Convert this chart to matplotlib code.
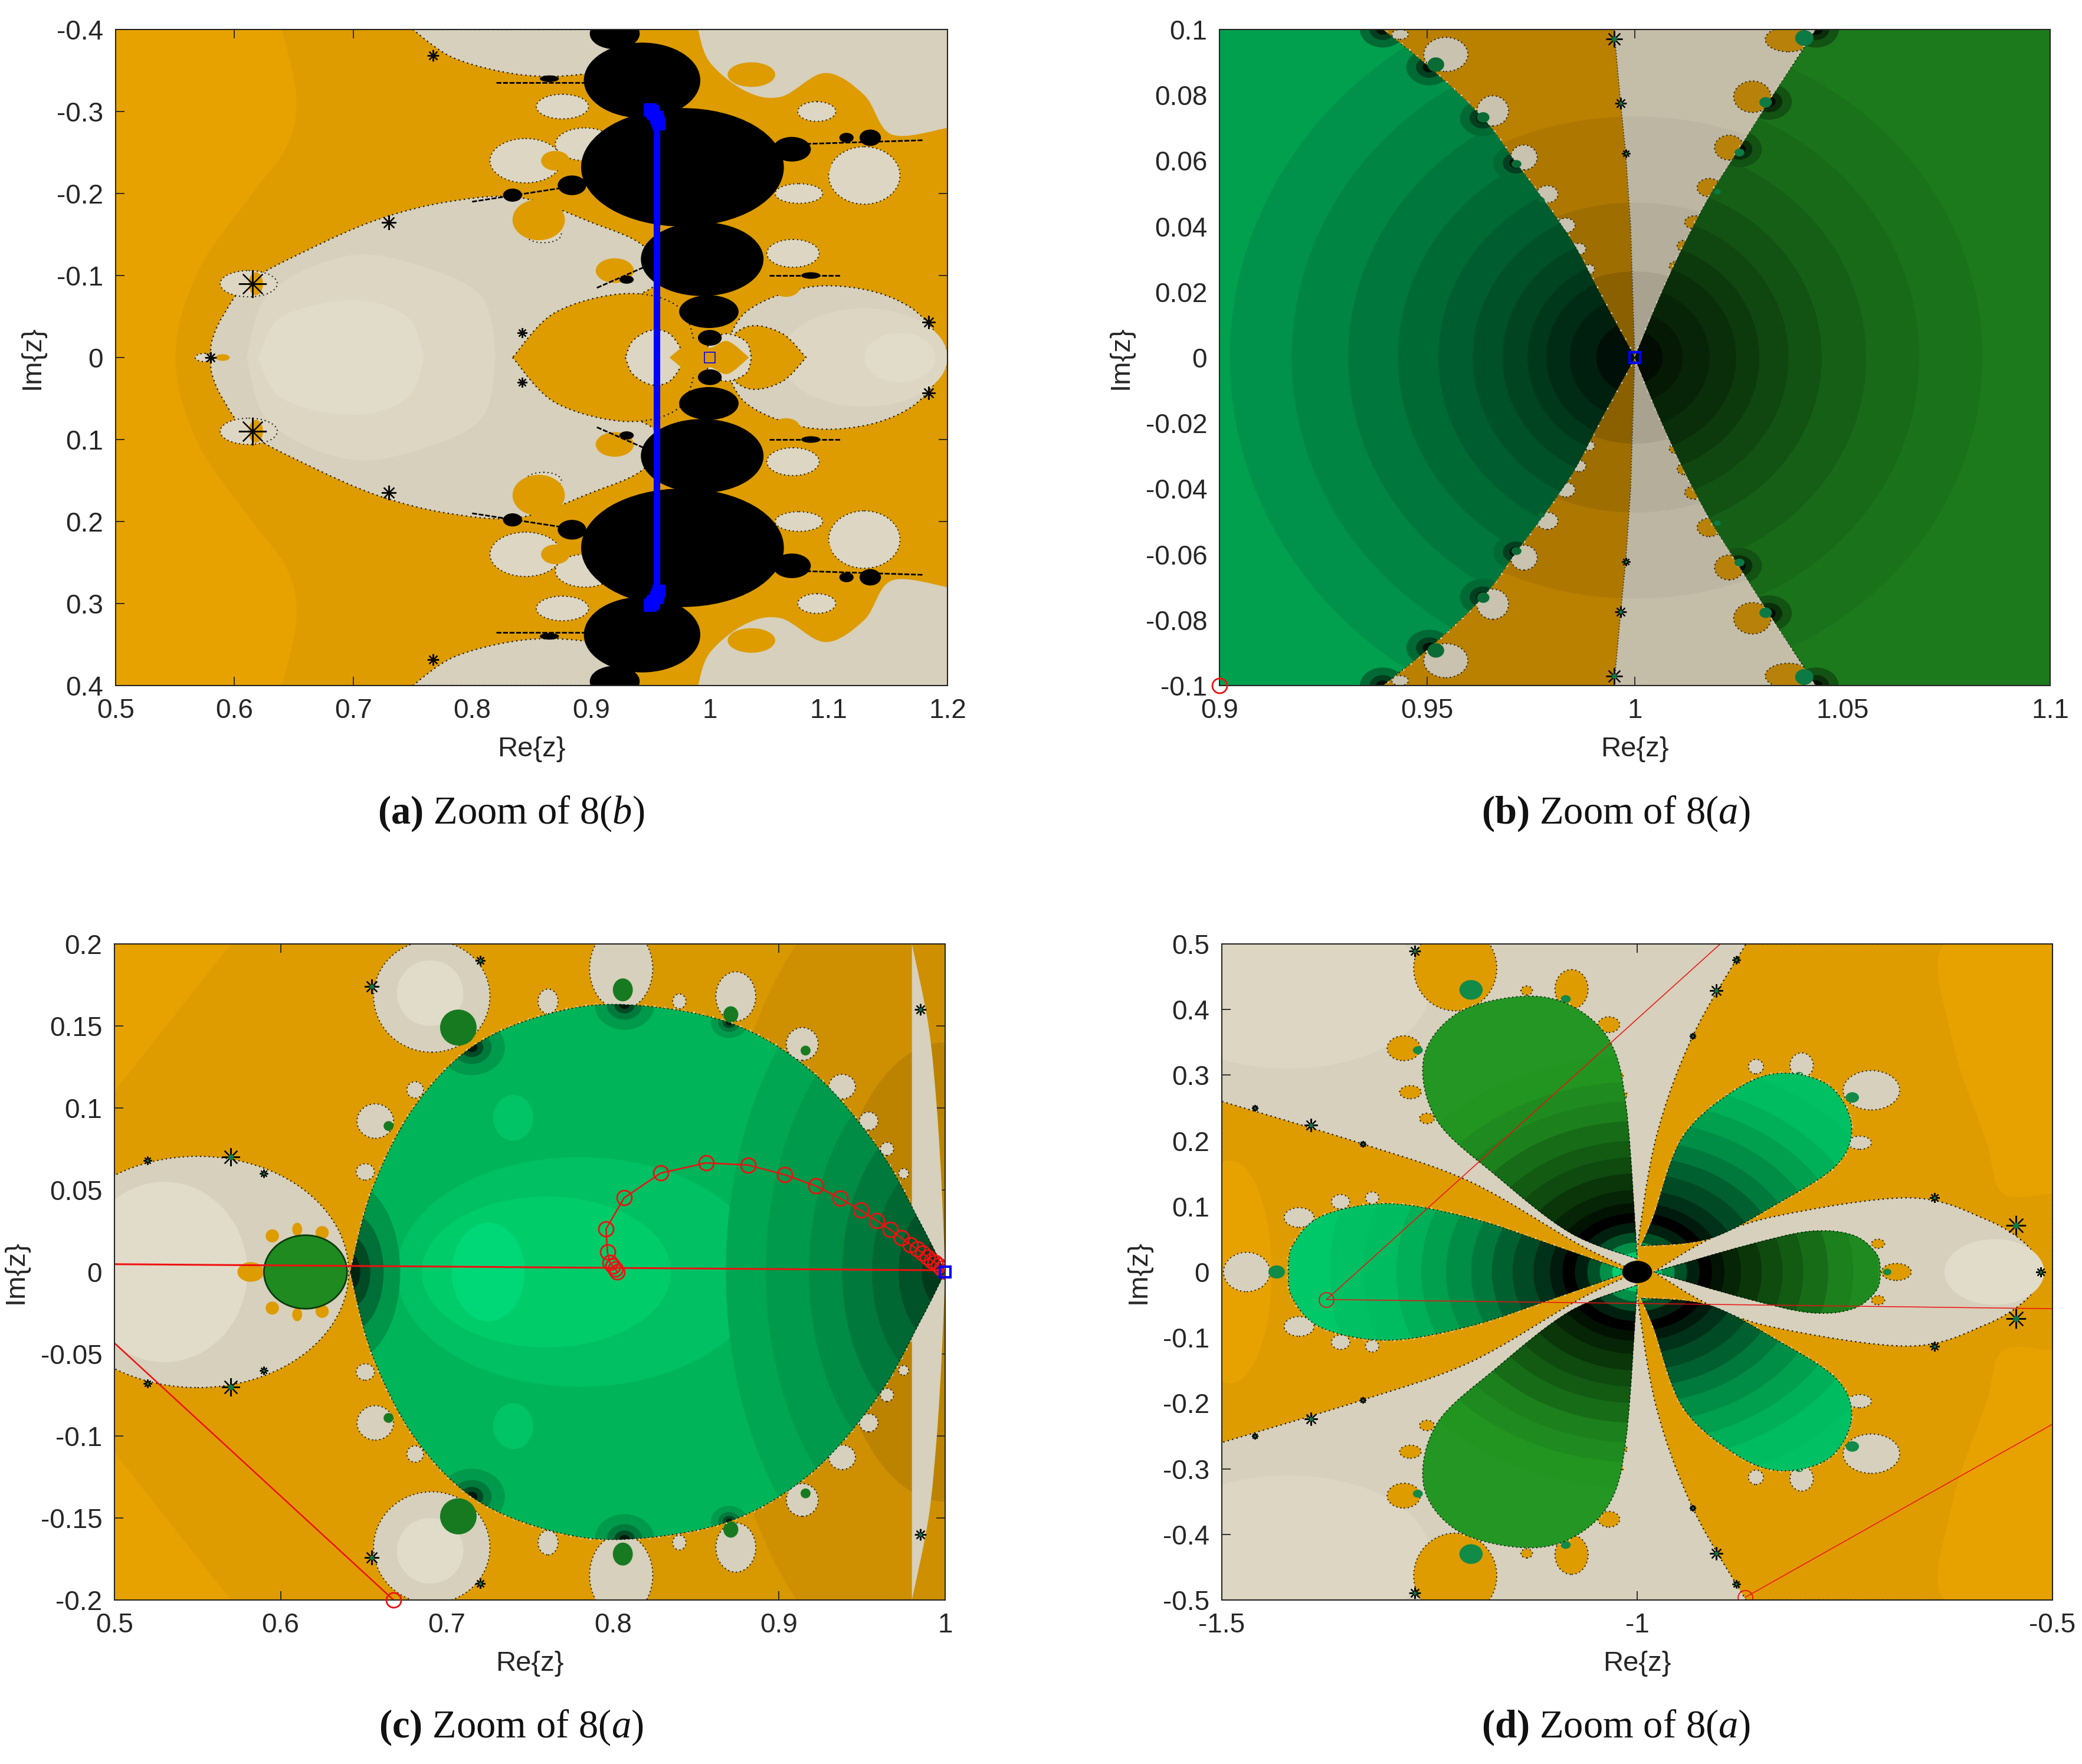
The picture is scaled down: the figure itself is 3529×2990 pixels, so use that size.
import numpy as np
import matplotlib
matplotlib.use("Agg")
import matplotlib.pyplot as plt
from matplotlib.path import Path
from matplotlib.patches import PathPatch, Ellipse

plt.rcParams['font.family'] = ['Liberation Sans', 'DejaVu Sans']
plt.rcParams['mathtext.fontset'] = 'custom'
plt.rcParams['mathtext.rm'] = 'Liberation Serif'
plt.rcParams['mathtext.it'] = 'Liberation Serif:italic'
plt.rcParams['mathtext.bf'] = 'Liberation Serif:bold'

# ---------- colours ----------
OR_BRIGHT = '#E8A200'; OR = '#DE9C00'
WH = '#D6D0BC'; WH2 = '#DCD6C3'; WH3 = '#E1DCCA'
BLUE = '#0000FF'; RED = '#F01010'

# ---------- panel (a) ----------
a_xticks = [0.5, 0.6, 0.7, 0.8, 0.9, 1, 1.1, 1.2]
a_yticks = [-0.4, -0.3, -0.2, -0.1, 0, 0.1, 0.2, 0.3, 0.4]
a_bright_edge = [(0.55, 0), (0.555, .05), (0.575, .12), (0.615, .20), (0.645, .26), (0.652, .32), (0.64, .4), (0.64, .4), (0.5, .4), (0.5, .4), (0.5, 0)]
a_big_lobe = [(0.58, 0), (0.581, .02), (0.59, .05), (0.612, .092), (0.66, .13), (0.72, .168), (0.78, .19), (0.84, .195), (0.90, .165), (0.945, .135), (0.955, .09), (0.90, .05), (0.88, 0)]
a_mid_lobe = [(0.61, 0), (0.63, .08), (0.70, .125), (0.77, .105), (0.81, .07), (0.82, 0)]
a_in_lobe = [(0.62, 0), (0.64, .05), (0.70, .07), (0.745, .05), (0.76, 0)]
a_right_lens = [(1.01, 0), (1.03, .055), (1.08, .085), (1.13, .083), (1.17, .06), (1.195, .02), (1.2, 0)]
a_corner = [(1.2, .4), (1.2, .4), (1.2, .28), (1.2, .28), (1.153, .272), (1.13, .32), (1.097, .347), (1.06, .318), (1.03, .325), (1.0, .36), (0.99, .4), (0.99, .4)]
a_top_lobe = [(0.75, .4), (0.785, .365), (0.84, .345), (0.89, .345), (0.93, .36), (0.93, .4), (0.93, .4)]
a_lens_or_l = [(0.834, 0), (0.87, .055), (0.93, .078), (0.975, .06), (0.99, 0)]
a_lens_wh_l = [(0.929, 0), (0.935, .02), (0.95, .033), (0.965, .03), (0.975, .012), (0.975, 0)]
a_lens_or_r = [(1.0, 0), (1.03, .037), (1.06, .03), (1.081, 0)]
a_lens_wh_r = [(0.99, 0), (1.01, .028), (1.03, .02), (1.035, 0)]
a_lens_or_c = [(0.966, 0), (0.985, .02), (1.0, .012), (1.015, .02), (1.033, 0)]
a_white_blobs = [(.845, .24, .03, .027), (.876, .306, .022, .015), (1.13, .222, .03, .035), (1.07, .127, .022, .017),
                 (1.075, .2, .02, .012), (1.09, .30, .016, .012), (.612, .09, .024, .016), (.575, 0, .008, .005), (.86, .15, .015, .01), (.895, .26, .025, .02)]
a_orange_blobs = [(.856, .168, .022, .025), (.92, .106, .016, .015), (1.064, .086, .012, .012), (.618, .09, .006, .014),
                  (1.09, .235, .012, .016), (1.035, .345, .02, .015), (.87, .24, .012, .012), (.94, .16, .012, .01), (.59, 0, .006, .004)]
a_black_discs = [(.977, .232, .0853, .0722), (.943, .338, .049, .046), (.92, .395, .021, .019), (.9936, .12, .0516, .045),
                 (.9992, .056, .025, .02), (1.0, .024, .01, .0096), (1.069, .254, .016, .015), (1.135, .268, .009, .01),
                 (1.115, .268, .006, .006), (.884, .21, .012, .012), (.834, .198, .008, .008), (.865, .34, .008, .004),
                 (1.085, .1, .008, .004), (.93, .095, .006, .005)]
a_chain_x = [(.80, .89), (1.07, 1.18), (.82, .90), (1.05, 1.11), (.905, .96)]
a_chain_y = [(.19, .21), (.26, .265), (.335, .335), (.10, .10), (.085, .12)]
a_stars = [(.615, .09, 34), (.73, .165, 18), (1.184, .043, 16), (.842, .03, 12), (.767, .368, 14), (.58, 0, 14)]
a_line_x = [0.955, 0.955]
a_line_y = [-0.285, 0.285]
a_end_x = [0.950, 0.952, 0.953, 0.955, 0.956, 0.957]
a_end_y = [0.302, 0.300, 0.297, 0.293, 0.289, 0.285]

# ---------- panel (b) ----------
b_xticks = [0.9, 0.95, 1, 1.05, 1.1]
b_yticks = [-0.1, -0.08, -0.06, -0.04, -0.02, 0, 0.02, 0.04, 0.06, 0.08, 0.1]
b_left_wedge = [(1.0, 0), (.9922, .018), (.9858, .0335), (.9794, .0456), (.9714, .0593), (.9634, .073), (.9505, .0885), (.9393, .1), (.9393, .1), (.9, .1), (.9, .1), (.9, 0)]
b_right_wedge = [(1.0, 0), (1.0059, .018), (1.0115, .0334), (1.0179, .0489), (1.0251, .0635), (1.0323, .078), (1.0436, .1), (1.0436, .1), (1.1, .1), (1.1, .1), (1.1, 0)]
b_center_line = [(.995, .1), (.9966, .0775), (.9978, .0623), (.999, .04), (1.0, 0)]
b_orange_region = [(.93, 0), (.93, .1), (.995, .1), (.9966, .0775), (.9978, .0623), (.999, .04), (1.0, 0)]
b_white_region = [(1.06, 0), (1.06, .1), (.995, .1), (.9966, .0775), (.9978, .0623), (.999, .04), (1.0, 0)]
b_left_radii = [.0975, .0826, .069, .057, .0473, .039, .0318, .0258, .0213, .0157, .0093]
b_left_cols = ['#00914A', '#008543', '#00773C', '#006A35', '#005D2F', '#005028', '#004421', '#00381B', '#002C15', '#00200F', '#001008']
b_right_radii = [.0837, .0685, .0557, .045, .037, .030, .0244, .018, .0115, .0067]
b_right_cols = ['#1A721B', '#186A19', '#156016', '#125213', '#104610', '#0D3A0D', '#0A2E0A', '#082408', '#051905', '#020C02']
b_eggs_l = [(.9545, .0924, .0053, .0052), (.9658, .0752, .0038, .0046), (.9733, .061, .0032, .0038), (.9789, .0498, .0026, .0026),
            (.9834, .0403, .0022, .0022), (.9866, .0331, .0016, .0017), (.989, .0269, .0013, .0014), (.9435, .0985, .002, .0015)]
b_dots_l = [(.9521, .0893, .002, .0022), (.9635, .0732, .0015, .0016), (.9715, .059, .0012, .0012), (.9775, .048, .0008, .0008)]
b_eggs_r = [(1.037, .097, .0056, .0038), (1.0283, .0795, .0045, .0048), (1.0227, .064, .0035, .0038), (1.0179, .0518, .0029, .0028),
            (1.0144, .0412, .0024, .002), (1.0118, .034, .0016, .0017), (1.0096, .0278, .0013, .0014)]
b_dots_r = [(1.0408, .0974, .0022, .0024), (1.0315, .0778, .0015, .0016), (1.0252, .0625, .0012, .0012), (1.0199, .0505, .0008, .0008)]
b_contacts_l = [(.9505, .0885), (.9634, .073), (.9714, .0593), (.9393, .1)]
b_contacts_r = [(1.0436, .1), (1.0323, .078), (1.0251, .0635)]
b_stars = [(.995, .0971, 20), (.9966, .0775, 14), (.9978, .0623, 10)]

# ---------- panel (c) ----------
c_xticks = [0.5, 0.6, 0.7, 0.8, 0.9, 1]
c_yticks = [-0.2, -0.15, -0.1, -0.05, 0, 0.05, 0.1, 0.15, 0.2]
c_disc = [(.642, 0), (.655, .05), (.68, .1), (.715, .137), (.76, .157), (.807, .163), (.87, .152), (.92, .122), (.96, .075), (.985, .03), (1.0, 0)]
c_strip = [(.98, .2), (.99, .15), (.995, .1), (.998, .05), (1.0, 0), (1.0, 0), (1.0, .2), (1.0, .2)]
c_radii = [.132, .108, .082, .062, .044, .028, .014]
c_cols = ['#00A652', '#009A4C', '#008C45', '#007A3C', '#006833', '#005228', '#003A1C']
c_eggs = [(.691, .168, .035, .034), (.805, .185, .019, .025), (.874, .168, .012, .015), (.761, .165, .006, .0075), (.84, .165, .004, .0045),
          (.914, .139, .0096, .01), (.938, .113, .008, .0075), (.954, .092, .0056, .0055), (.965, .075, .004, .004), (.657, .092, .011, .0105),
          (.681, .111, .005, .005), (.651, .061, .0055, .005), (.975, .06, .003, .003)]
c_dots = [(.707, .149, .011, .011), (.806, .172, .006, .007), (.871, .157, .0045, .005), (.665, .089, .003, .003), (.916, .135, .003, .003)]
c_orange_bits = [(.595, .022, .004, .004), (.625, .024, .004, .004), (.61, .026, .003, .004), (.582, 0, .008, .006), (.708, .133, .012, .006), (.806, .158, .005, .006)]
c_stars = [(.57, .07, 22), (.655, .174, 18), (.985, .16, 14), (.72, .19, 12), (.52, .068, 10), (.59, .06, 10)]
c_line1_x = [.668, .40]; c_line1_y = [-.2, .0499]
c_line2_x = [.40, 1.0]; c_line2_y = [.0055, .001]
c_traj_x = [.8024, .8016, .7999, .7983, .7967, .7959, .8068, .8288, .8561, .8814, .9034, .9223, .9367, .9491, .9587, .9668, .9736, .9792, .9832, .9864, .9892, .992, .994, .996, .998, 1.0]
c_traj_y = [.0001, .0019, .0036, .0056, .0122, .0263, .0452, .0603, .0665, .0652, .0593, .0524, .0449, .0376, .0314, .0259, .0208, .0166, .0139, .0115, .0091, .007, .0056, .0039, .0022, .0005]

# ---------- panel (d) ----------
d_xticks = [-1.5, -1, -0.5]
d_xlabels = ['-1.5', '-1', '-0.5']
d_yticks = [-0.5, -0.4, -0.3, -0.2, -0.1, 0, 0.1, 0.2, 0.3, 0.4, 0.5]
d_or_left = [(-1.0, 0), (-1.07, .042), (-1.2, .137), (-1.33, .195), (-1.5, .26), (-1.5, .26), (-1.5, 0)]
d_or_right = [(-1.0, 0), (-1.0, .034), (-.977, .206), (-.933, .36), (-.869, .5), (-.869, .5), (-.5, .5), (-.5, .5), (-.5, 0)]
d_bright_right = [(-.5, .5), (-.5, .5), (-.63, .5), (-.62, .35), (-.58, .2), (-.56, .12), (-.5, .12), (-.5, .12), (-.5, .5)]
d_lens = [(-.98, 0), (-.913, .05), (-.833, .085), (-.672, .113), (-.58, .08), (-.53, .04), (-.514, 0)]
d_petal_left = [(-1.01, 0), (-1.10, .04), (-1.2, .082), (-1.3, .104), (-1.38, .085), (-1.415, .04), (-1.42, 0)]
d_petal_right = [(-.98, 0), (-.87, .04), (-.792, .062), (-.74, .056), (-.712, .028), (-.707, 0)]
d_petal_tl = [(-1.0, .02), (-1.013, .25), (-1.033, .352), (-1.081, .407), (-1.141, .42), (-1.217, .394), (-1.257, .326), (-1.241, .231), (-1.169, .146), (-1.081, .06), (-1.0, .02)]
d_petal_tr = [(-.995, .04), (-.98, .085), (-.945, .206), (-.88, .279), (-.825, .303), (-.768, .283), (-.742, .223), (-.76, .163), (-.833, .103), (-.913, .051), (-.995, .04)]
d_radii = [.37, .33, .29, .26, .23, .20, .175, .15, .125, .105, .09, .075, .06, .045, .03]
d_bright = ['#00C064', '#00BC60', '#00B058', '#00A04E', '#008E47', '#007A3C', '#006030', '#004A25', '#00321A', '#001A0D', '#000000', '#00200F', '#005028', '#009048', '#00D070']
d_dark = ['#249624', '#229520', '#1F8A1F', '#1C801C', '#176C17', '#135A13', '#0F4A0F', '#0A360A', '#062406', '#031303', '#000000', '#00200F', '#005028', '#009048', '#00C868']
d_eggs_or = [(-1.219, .463, .05, .065), (-1.079, .431, .02, .03), (-1.034, .377, .013, .012), (-1.281, .341, .02, .019), (-1.273, .274, .013, .01),
             (-1.253, .234, .009, .008), (-1.133, .429, .007, .007), (-1.025, .30, .008, .008), (-1.018, .27, .006, .006), (-.688, 0, .018, .013), (-.71, .043, .008, .007)]
d_eggs_wh = [(-1.47, 0, .028, .03), (-1.407, .083, .018, .015), (-1.357, .107, .011, .011), (-1.319, .113, .008, .009),
             (-.718, .277, .034, .03), (-.802, .315, .014, .019), (-.857, .313, .009, .011), (-.732, .197, .014, .01)]
d_dots = [(-1.434, 0, .01, .01), (-1.2, .43, .014, .015), (-1.086, .416, .006, .006), (-1.264, .338, .006, .006), (-.741, .266, .008, .008),
          (-.699, 0, .005, .005), (-.805, .30, .005, .005)]
d_stars = [(-.544, .071, 24), (-.642, .113, 12), (-.514, 0, 12), (-1.393, .224, 16), (-1.268, .489, 14), (-.905, .429, 16), (-.881, .476, 10), (-.933, .36, 8), (-1.33, .195, 8), (-1.46, .25, 8)]
d_start_x = [-1.374, -.87]; d_start_y = [-.042, -.496]
d_line1_x = [-1.374, -.5]; d_line1_y = [-.042, -.056]
d_line2_x = [-1.374, -.9]; d_line2_y = [-.042, .5]
d_line3_x = [-.87, -.5]; d_line3_y = [-.496, -.232]

captions = [r"$\mathbf{(a)}$ Zoom of 8$(\mathit{b})$", r"$\mathbf{(b)}$ Zoom of 8$(\mathit{a})$",
            r"$\mathbf{(c)}$ Zoom of 8$(\mathit{a})$", r"$\mathbf{(d)}$ Zoom of 8$(\mathit{a})$"]

W, H = 3530, 2990
fig = plt.figure(figsize=(W / 100, H / 100), dpi=100, facecolor='white')
FUZZ = (0, (1, 2.5))


def make_ax(left, right, top, bottom):
    ax = fig.add_axes([left / W, 1 - bottom / H, (right - left) / W, (bottom - top) / H])
    ax.tick_params(direction='in', length=11, width=1.3, top=True, right=True, labelsize=33, colors='#262626', pad=15)
    for s in ax.spines.values():
        s.set_linewidth(1.5); s.set_color('#262626'); s.set_zorder(50)
    ax.set_xlabel('Re{z}', fontsize=34, color='#262626', labelpad=15)
    ax.set_ylabel('Im{z}', fontsize=34, color='#262626', labelpad=14)
    return ax


def spline_segments(p):
    p = np.asarray(p, float)
    n = len(p)
    v, c = [], []
    for i in range(n - 1):
        p0, p1, p2, p3 = p[max(i - 1, 0)], p[i], p[i + 1], p[min(i + 2, n - 1)]
        v += [p1 + (p2 - p0) / 6, p2 - (p3 - p1) / 6, p2]
        c += [Path.CURVE4] * 3
    return v, c


def runs(p):
    # a repeated point marks a sharp corner between two smooth runs
    out, cur = [], [p[0]]
    for a in p[1:]:
        if np.allclose(a, cur[-1]):
            if len(cur) > 1:
                out.append(cur)
            cur = [a]
        else:
            cur.append(a)
    if len(cur) > 1:
        out.append(cur)
    return out


def shape_path(pts, mirror=True):
    p = np.asarray(pts, float)
    verts = [p[0]]
    codes = [Path.MOVETO]
    for r in runs(p):
        v, c = spline_segments(r)
        verts += v; codes += c
    if mirror:
        q = p[::-1] * [1, -1]
        for r in runs(q):
            v, c = spline_segments(r)
            verts += v; codes += c
    verts.append(p[0]); codes.append(Path.CLOSEPOLY)
    return Path(np.array(verts), codes)


def blob(ax, pts, color, z=2, mirror=True, fuzz=False):
    patch = PathPatch(shape_path(pts, mirror), fc=color, ec='none', zorder=z)
    ax.add_patch(patch)
    if fuzz:
        ax.add_patch(PathPatch(shape_path(pts, mirror), fc='none', ec='#111111', lw=1.6, ls=FUZZ, zorder=z + .1))
    return patch


def sharp_poly(ax, pts, color, z=2, mirror=True):
    p = np.asarray(pts, float)
    if mirror:
        p = np.vstack([p, p[::-1] * [1, -1]])
    patch = plt.Polygon(p, closed=True, fc=color, ec='none', zorder=z)
    ax.add_patch(patch)
    return patch


def ellipses(ax, items, color, z=3, mirror=True, clip=None, fuzz=False):
    for (x, y, rx, ry) in items:
        for s in ([1, -1] if mirror and y != 0 else [1]):
            if fuzz:
                e = Ellipse((x, s * y), 2 * rx, 2 * ry, fc=color, ec='#111111', lw=1.4, ls=FUZZ, zorder=z)
            else:
                e = Ellipse((x, s * y), 2 * rx, 2 * ry, fc=color, ec='none', zorder=z)
            ax.add_patch(e)
            if clip is not None:
                e.set_clip_path(clip)


def stars(ax, items, z=8, mirror=True, dot=None):
    for (x, y, s) in items:
        for sg in ([1, -1] if mirror and y != 0 else [1]):
            ax.plot([x], [sg * y], marker=(8, 2, 0), ms=s, mew=1.6, color='#0A0A0A', ls='none', zorder=z)
            if dot:
                ax.plot([x], [sg * y], marker='o', ms=s * .3, color=dot, mew=0, ls='none', zorder=z + .1)


def bands(ax, center, radii, cols, clip, yscale=1.0, z=3):
    for r, col in zip(radii, cols):
        e = Ellipse(center, 2 * r, 2 * r * yscale, fc=col, ec='none', zorder=z)
        ax.add_patch(e)
        e.set_clip_path(clip)


def rim(ax, pts, mirror=True, z=2.9):
    # fine light specks just outside a basin, then the dark boundary dots
    ax.add_patch(PathPatch(shape_path(pts, mirror), fc='none', ec=WH2, lw=4, ls=(0, (.5, 2.5)), zorder=z))
    ax.add_patch(PathPatch(shape_path(pts, mirror), fc='none', ec='#101010', lw=1.4, ls=FUZZ, zorder=z + .8))


# ===== (a) =====
ax = make_ax(196, 1606, 50, 1162)
ax.set_facecolor(OR)
blob(ax, a_bright_edge, OR_BRIGHT, z=1)
blob(ax, a_corner, WH, z=2, mirror=False)
blob(ax, [(x, -y) for x, y in a_corner], WH, z=2, mirror=False)
blob(ax, a_top_lobe, WH, z=2, mirror=False, fuzz=True)
blob(ax, [(x, -y) for x, y in a_top_lobe], WH, z=2, mirror=False, fuzz=True)
blob(ax, a_big_lobe, WH, z=2, fuzz=True)
blob(ax, a_mid_lobe, WH2, z=2.2)
blob(ax, a_in_lobe, WH3, z=2.3)
blob(ax, a_right_lens, WH, z=2, fuzz=True)
ax.add_patch(Ellipse((1.13, 0), .14, .12, fc=WH2, ec='none', zorder=2.2))
ax.add_patch(Ellipse((1.16, 0), .06, .06, fc=WH3, ec='none', zorder=2.25))
blob(ax, a_lens_or_l, OR, z=2.5, fuzz=True)
blob(ax, a_lens_or_r, OR, z=2.5, fuzz=True)
blob(ax, a_lens_wh_l, WH2, z=2.7, fuzz=True)
blob(ax, a_lens_wh_r, WH2, z=2.7, fuzz=True)
blob(ax, a_lens_or_c, OR, z=2.9)
ellipses(ax, a_white_blobs, WH2, z=3, fuzz=True)
ellipses(ax, a_orange_blobs, OR, z=3.2)
for xs_, ys_ in zip(a_chain_x, a_chain_y):
    for sg in (1, -1):
        ax.plot(xs_, [sg * ys_[0], sg * ys_[1]], color='#000000', lw=2, ls=(0, (3, 1)), zorder=4.5)
ellipses(ax, a_black_discs, '#000000', z=5)
stars(ax, a_stars, mirror=True)
ax.plot(a_line_x, a_line_y, color=BLUE, lw=8, zorder=10, solid_capstyle='butt')
for sg in (1, -1):
    ax.plot(a_end_x, [sg * v for v in a_end_y], ls='none', marker='s', ms=15, mfc=BLUE, mec=BLUE, mew=1.5, zorder=11)
ax.plot([1], [0], marker='s', ms=13, mfc='none', mec=BLUE, mew=1.2, zorder=11)
ax.set_xlim(0.5, 1.2); ax.set_ylim(0.4, -0.4)
ax.set_xticks(a_xticks); ax.set_xticklabels(['0.5', '0.6', '0.7', '0.8', '0.9', '1', '1.1', '1.2'])
ax.set_yticks(a_yticks); ax.set_yticklabels(['-0.4', '-0.3', '-0.2', '-0.1', '0', '0.1', '0.2', '0.3', '0.4'])

# ===== (b) =====
ax = make_ax(2067, 3475, 50, 1162)
ax.set_facecolor('#BA8000')
orange_reg = sharp_poly(ax, b_orange_region, '#BA8000', z=1)
white_reg = sharp_poly(ax, b_white_region, '#C4BDA8', z=1)
bands(ax, (1, 0), [.07, .045, .025], ['#AE7800', '#9E6E00', '#8A6000'], orange_reg, yscale=1.05, z=1.2)
bands(ax, (1, 0), [.07, .045, .025], ['#BDB6A2', '#B4AE9A', '#A8A28F'], white_reg, yscale=1.05, z=1.2)
ax.plot([x for x, y in b_center_line], [y for x, y in b_center_line], color='#222222', lw=1.2, ls=(0, (1, 2)), zorder=1.5)
ax.plot([x for x, y in b_center_line], [-y for x, y in b_center_line], color='#222222', lw=1.2, ls=(0, (1, 2)), zorder=1.5)
ellipses(ax, b_eggs_l, '#C8C2AE', z=2, fuzz=True)
ellipses(ax, b_eggs_r, '#B8820A', z=2, fuzz=True)
lw_ = blob(ax, b_left_wedge, '#00A04E', z=3)
rw_ = blob(ax, b_right_wedge, '#1C7A1C', z=3)
rim(ax, b_left_wedge, z=2.9)
rim(ax, b_right_wedge, z=2.9)
bands(ax, (1, 0), b_left_radii, b_left_cols, lw_, yscale=1.18, z=4)
bands(ax, (1, 0), b_right_radii, b_right_cols, rw_, yscale=1.18, z=4)
for (pts_, clip_, cols_) in [(b_contacts_l, lw_, ['#006A35', '#003F20', '#021208']), (b_contacts_r, rw_, ['#125213', '#0A2E0A', '#020C02'])]:
    for cx_, cy_ in pts_:
        for sg in (1, -1):
            bands(ax, (cx_, sg * cy_), [.0055, .0032, .0016], cols_, clip_, z=4.2)
ellipses(ax, b_dots_l, '#0B6B34', z=6)
ellipses(ax, b_dots_r, '#0B7A45', z=6)
stars(ax, b_stars, dot='#0B7A45')
ax.plot([.9], [-.1], marker='o', ms=18, mfc='none', mec=RED, mew=2, clip_on=False, zorder=60)
ax.plot([1], [0], marker='s', ms=13, mfc='none', mec=BLUE, mew=3, zorder=20)
ax.set_xlim(0.9, 1.1); ax.set_ylim(-0.1, 0.1)
ax.set_xticks(b_xticks); ax.set_xticklabels(['0.9', '0.95', '1', '1.05', '1.1'])
ax.set_yticks(b_yticks); ax.set_yticklabels(['-0.1', '-0.08', '-0.06', '-0.04', '-0.02', '0', '0.02', '0.04', '0.06', '0.08', '0.1'])

# ===== (c) =====
ax = make_ax(194, 1602, 1600, 2712)
ax.set_facecolor(OR)
sharp_poly(ax, [(.5, .2), (.57, .2), (.5, .11)], OR_BRIGHT, z=1, mirror=False)
sharp_poly(ax, [(.5, -.2), (.57, -.2), (.5, -.11)], OR_BRIGHT, z=1, mirror=False)
for rx_, ry_, col_ in [(.24, .30, '#D89800'), (.14, .26, '#CE9000'), (.07, .14, '#BC8300')]:
    ax.add_patch(Ellipse((1, 0), 2 * rx_, 2 * ry_, fc=col_, ec='none', zorder=1.1))
blob(ax, c_strip, WH, z=2)
ax.add_patch(Ellipse((.55, 0), 2 * .091, 2 * .0705, fc=WH, ec='#111111', lw=1.5, ls=FUZZ, zorder=2))
ax.add_patch(Ellipse((.53, 0), 2 * .05, 2 * .055, fc=WH3, ec='none', zorder=2.1))
ellipses(ax, c_orange_bits, OR, z=2.2)
ax.add_patch(Ellipse((.615, 0), 2 * .025, 2 * .0224, fc='#1F8A20', ec='#0A3A0A', lw=2, zorder=2.4))
ellipses(ax, c_eggs, WH, z=2.5, fuzz=True)
ellipses(ax, [(.69, .17, .02, .02)], WH3, z=2.6)
ellipses(ax, c_dots, '#177A20', z=2.8)
disc = blob(ax, c_disc, '#00B45A', z=3)
rim(ax, c_disc, z=2.9)
bright = [(.78, 0, .11, .07, '#00C064'), (.76, 0, .075, .046, '#00CC6A'), (.725, 0, .022, .03, '#00D878'),
          (.74, .094, .012, .014, '#00C466'), (.74, -.094, .012, .014, '#00C466')]
for x_, y_, rx_, ry_, col_ in bright:
    e_ = Ellipse((x_, y_), 2 * rx_, 2 * ry_, fc=col_, ec='none', zorder=3.1)
    ax.add_patch(e_); e_.set_clip_path(disc)
bands(ax, (1, 0), c_radii, c_cols, disc, yscale=1.6, z=3.2)
bands(ax, (.642, 0), [.03, .02, .012, .006], ['#00964A', '#006F38', '#004A24', '#002412'], disc, yscale=1.8, z=3.3)
for cx_, cy_, k_ in [(.715, .137, 1.0), (.807, .163, .9), (.87, .152, .55), (.665, .089, .4)]:
    for sg in (1, -1):
        bands(ax, (cx_, sg * cy_), [.02 * k_, .012 * k_, .007 * k_, .0035 * k_], ['#009A4C', '#007A3C', '#004A24', '#001A0E'], disc, yscale=.85, z=3.4)
stars(ax, c_stars, dot='#0B7A45')
ax.plot(c_line1_x, c_line1_y, color=RED, lw=1.8, zorder=10)
ax.plot(c_line2_x, c_line2_y, color=RED, lw=2.2, zorder=10)
ax.plot(c_traj_x, c_traj_y, color=RED, lw=1.8, marker='o', ms=18, mfc='none', mec=RED, mew=2, zorder=11)
ax.plot([.668], [-.2], marker='o', ms=18, mfc='none', mec=RED, mew=2, clip_on=False, zorder=60)
ax.plot([1], [0], marker='s', ms=13, mfc='none', mec=BLUE, mew=3, clip_on=False, zorder=60)
ax.set_xlim(0.5, 1); ax.set_ylim(-0.2, 0.2)
ax.set_xticks(c_xticks); ax.set_xticklabels(['0.5', '0.6', '0.7', '0.8', '0.9', '1'])
ax.set_yticks(c_yticks); ax.set_yticklabels(['-0.2', '-0.15', '-0.1', '-0.05', '0', '0.05', '0.1', '0.15', '0.2'])

# ===== (d) =====
ax = make_ax(2071, 3479, 1600, 2712)
ax.set_facecolor(WH)
for sg in (1, -1):
    ax.add_patch(Ellipse((-1.42, sg * .43), .34, .24, fc=WH2, ec='none', zorder=1))
blob(ax, d_or_left, OR, z=2, fuzz=True)
blob(ax, d_or_right, OR, z=2, fuzz=True)
blob(ax, d_bright_right, OR_BRIGHT, z=2.1, mirror=False)
blob(ax, [(x, -y) for x, y in d_bright_right], OR_BRIGHT, z=2.1, mirror=False)
ax.add_patch(Ellipse((-1.49, 0), .1, .34, fc=OR_BRIGHT, ec='none', zorder=2.1))
blob(ax, d_lens, WH, z=2.3, fuzz=True)
ax.add_patch(Ellipse((-.57, 0), .12, .1, fc=WH3, ec='none', zorder=2.4))
ellipses(ax, d_eggs_or, OR, z=2.6, fuzz=True)
ellipses(ax, d_eggs_wh, WH, z=2.6, fuzz=True)
ellipses(ax, d_dots, '#128A48', z=2.8)
for pts_, cols_, base_ in [(d_petal_left, d_bright, '#00C868'), (d_petal_right, d_dark, '#249624')]:
    pp = blob(ax, pts_, base_, z=3, mirror=True)
    bands(ax, (-1, 0), d_radii, cols_, pp, z=3.2)
    rim(ax, pts_, z=2.9)
for pts_, cols_, base_ in [(d_petal_tl, d_dark, '#249624'), (d_petal_tr, d_bright, '#00C868')]:
    for sg in (1, -1):
        q_ = [(x, sg * y) for x, y in pts_]
        pp = blob(ax, q_, base_, z=3, mirror=False)
        bands(ax, (-1, 0), d_radii, cols_, pp, z=3.2)
        rim(ax, q_, mirror=False, z=2.9)
ax.add_patch(Ellipse((-1, 0), .036, .034, fc='#000000', ec='none', zorder=5))
stars(ax, d_stars, dot='#0B7A45')
ax.plot(d_line1_x, d_line1_y, color=RED, lw=1.1, zorder=10)
ax.plot(d_line2_x, d_line2_y, color=RED, lw=1.1, zorder=10)
ax.plot(d_line3_x, d_line3_y, color=RED, lw=1.1, zorder=10)
ax.plot(d_start_x, d_start_y, ls='none', marker='o', ms=18, mfc='none', mec=RED, mew=1.3, zorder=11)
ax.set_xlim(-1.5, -0.5); ax.set_ylim(-0.5, 0.5)
ax.set_xticks(d_xticks); ax.set_xticklabels(d_xlabels)
ax.set_yticks(d_yticks); ax.set_yticklabels(['-0.5', '-0.4', '-0.3', '-0.2', '-0.1', '0', '0.1', '0.2', '0.3', '0.4', '0.5'])

for (cx, cy), cap in zip([(866, 1379), (2739, 1379), (866, 2928), (2739, 2928)], captions):
    fig.text(cx / W, 1 - cy / H, cap, ha='center', va='center', fontsize=48, family='Liberation Serif', color='#111111')

fig.savefig('out.png', dpi=100)
